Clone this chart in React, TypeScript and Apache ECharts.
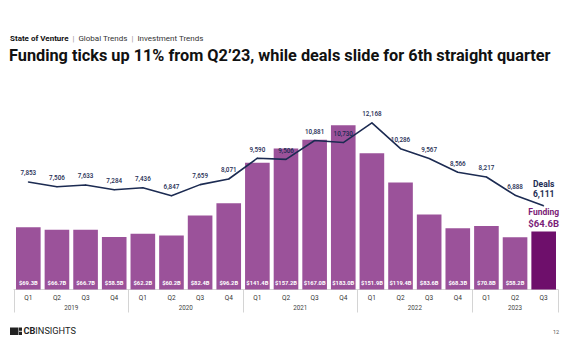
import React, { useEffect, useRef } from "react";
import * as echarts from "echarts";

const quarters = ["Q1","Q2","Q3","Q4","Q1","Q2","Q3","Q4","Q1","Q2","Q3","Q4","Q1","Q2","Q3","Q4","Q1","Q2","Q3"];
const years = ["2019", "2020", "2021", "2022", "2023"];
const quartersPerYear = [4, 4, 4, 4, 3];
const funding = [69.3, 66.7, 66.7, 58.5, 62.2, 60.2, 82.4, 96.2, 141.4, 157.2, 167.0, 183.0, 151.9, 119.4, 83.6, 68.3, 70.8, 58.2, 64.6];
const deals = [7853, 7506, 7633, 7284, 7436, 6847, 7659, 8071, 9590, 9506, 10881, 10730, 12168, 10286, 9567, 8566, 8217, 6888, 6111];

const FONT = "Roboto, 'Noto Sans', sans-serif";
const NAVY = "#1c2b52";
const PURPLE = "#9b529a";
const DARK = "#6e0f6b";

export default function App() {
  const ref = useRef<HTMLDivElement>(null);
  useEffect(() => {
    if (!ref.current) return;
    const chart = echarts.init(ref.current, null, { renderer: "svg" });

    const boundaries: number[] = [0];
    const centers: number[] = [];
    quartersPerYear.forEach((n) => {
      const start = boundaries[boundaries.length - 1];
      centers.push(start + n / 2);
      boundaries.push(start + n);
    });
    const last = funding.length - 1;

    chart.setOption({
      animation: false,
      textStyle: { fontFamily: FONT },
      grid: { left: 14, right: 14, top: 97.8, bottom: 74.5 },
      xAxis: [
        {
          type: "category",
          data: quarters,
          position: "bottom",
          axisLine: { show: true, lineStyle: { color: "#d4d4d4", width: 1 } },
          axisTick: { show: false },
          axisLabel: { color: "#333", fontSize: 6.5, margin: 5, fontFamily: FONT },
        },
        {
          type: "value",
          min: 0,
          max: quarters.length,
          position: "bottom",
          axisLine: { show: false },
          splitLine: { show: false },
          axisTick: { show: true, customValues: boundaries, length: 23, lineStyle: { color: "#d4d4d4", width: 1 } },
          axisLabel: {
            customValues: centers,
            color: "#444",
            fontSize: 6.3,
            margin: 15,
            fontFamily: FONT,
            formatter: (v: number) => {
              const i = centers.findIndex((c) => Math.abs(c - v) < 1e-6);
              return i >= 0 ? years[i] : "";
            },
          },
        },
      ],
      yAxis: [
        { type: "value", min: 0, max: 213.7, show: false },
        { type: "value", min: 0, max: 14000, show: false },
      ],
      series: [
        {
          type: "bar",
          xAxisIndex: 0,
          yAxisIndex: 0,
          barCategoryGap: "14%",
          z: 2,
          data: funding.map((v, i) =>
            i === last
              ? {
                  value: v,
                  itemStyle: { color: DARK },
                  label: {
                    show: true,
                    position: "top",
                    distance: 3,
                    formatter: () => "{a|Funding}\n{b|$" + v.toFixed(1) + "B}",
                    rich: {
                      a: { color: "#7b1d78", fontSize: 8.5, fontWeight: "bold", fontFamily: FONT, lineHeight: 11 },
                      b: { color: "#7b1d78", fontSize: 9.5, fontWeight: "bold", fontFamily: FONT, lineHeight: 11 },
                    },
                  },
                }
              : v
          ),
          itemStyle: { color: PURPLE },
          label: {
            show: true,
            position: "insideBottom",
            distance: 4,
            color: "#fff",
            fontSize: 5.8,
            fontWeight: "bold",
            fontFamily: FONT,
            formatter: (p: any) => "$" + Number(p.value).toFixed(1) + "B",
          },
        },
        {
          type: "line",
          xAxisIndex: 0,
          yAxisIndex: 1,
          z: 5,
          symbol: "circle",
          symbolSize: 1,
          lineStyle: { color: NAVY, width: 1.6 },
          itemStyle: { color: NAVY },
          data: deals.map((v, i) =>
            i === last
              ? {
                  value: v,
                  label: {
                    show: true,
                    position: "top",
                    distance: 6,
                    formatter: () => "Deals\n" + v.toLocaleString("en-US"),
                    color: NAVY,
                    fontSize: 8.5,
                    lineHeight: 10,
                    fontWeight: "bold",
                    fontFamily: FONT,
                  },
                }
              : v
          ),
          label: {
            show: true,
            position: "top",
            distance: 5,
            color: NAVY,
            fontSize: 6.3,
            fontWeight: 500,
            fontFamily: FONT,
            formatter: (p: any) => Number(p.value).toLocaleString("en-US"),
          },
        },
      ],
      graphic: [
        {
          type: "text",
          left: 10,
          top: 34.5,
          style: {
            text: "{b|State of Venture}{s|  |  }{n|Global Trends}{s|  |  }{n|Investment Trends}",
            rich: {
              b: { fontSize: 8, fontWeight: "bold", fill: "#111", fontFamily: FONT },
              n: { fontSize: 8, fill: "#333", fontFamily: FONT },
              s: { fontSize: 8, fill: "#999", fontFamily: FONT },
            },
          },
        },
        {
          type: "text",
          left: 9,
          top: 47,
          style: {
            text: "Funding ticks up 11% from Q2\u201923, while deals slide for 6th straight quarter",
            fontSize: 16.3,
            fontWeight: "bold",
            fill: "#111",
            fontFamily: FONT,
          },
        },
        { type: "rect", shape: { x: 10, y: 327.5, width: 8.5, height: 7.5 }, style: { fill: "#222" } },
        { type: "rect", shape: { x: 19, y: 327.5, width: 3, height: 3.3 }, style: { fill: "#222" } },
        { type: "rect", shape: { x: 19, y: 331.7, width: 3, height: 3.3 }, style: { fill: "#222" } },
        {
          type: "text",
          left: 23.5,
          top: 326,
          style: {
            text: "{b|CB}{n|INSIGHTS}",
            rich: {
              b: { fontSize: 9.2, fontWeight: "bold", fill: "#222", fontFamily: FONT },
              n: { fontSize: 9.2, fill: "#222", fontFamily: FONT },
            },
          },
        },
        {
          type: "text",
          left: 553,
          top: 329,
          style: { text: "12", fontSize: 5.5, fill: "#555", fontFamily: FONT },
        },
      ],
    });
    return () => chart.dispose();
  }, []);
  return <div ref={ref} style={{ width: 572, height: 364, position: "absolute", left: 0, top: 0, background: "#fff" }} />;
}
